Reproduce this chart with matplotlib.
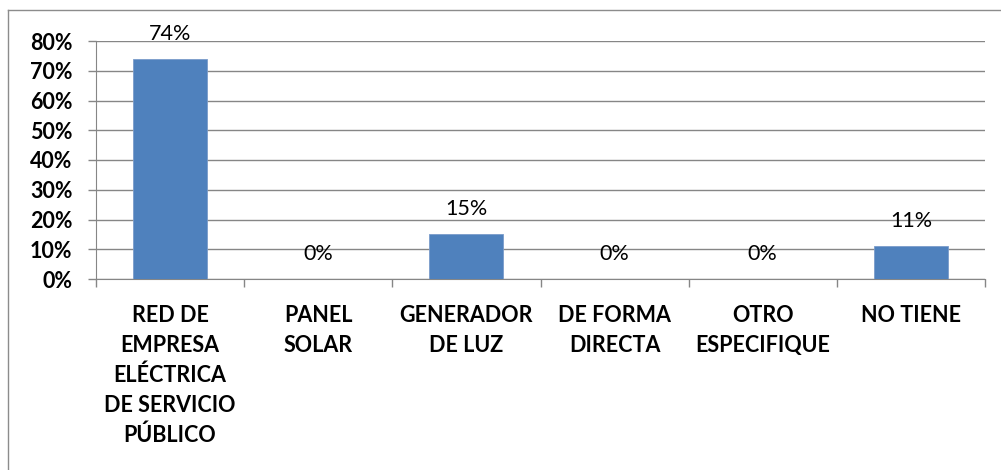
import numpy as np
import matplotlib
matplotlib.use("Agg")
import matplotlib.pyplot as plt
from matplotlib.lines import Line2D
from matplotlib.ticker import FixedLocator

# --- Data ---
categories = [
    "RED DE\nEMPRESA\nELÉCTRICA\nDE SERVICIO\nPÚBLICO",
    "PANEL\nSOLAR",
    "GENERADOR\nDE LUZ",
    "DE FORMA\nDIRECTA",
    "OTRO\nESPECIFIQUE",
    "NO TIENE",
]
values = [74, 0, 15, 0, 0, 11]
y_ticks = [0, 10, 20, 30, 40, 50, 60, 70, 80]

BAR_COLOR = "#4F81BD"
GRID_COLOR = "#868686"

plt.rcParams['font.family'] = ['Lato', 'DejaVu Sans']

fig = plt.figure(figsize=(10.01, 4.70), dpi=100)
ax = fig.add_axes([96 / 1001, 191 / 470, 889 / 1001, 238 / 470])

x = np.arange(len(categories))
bars = ax.bar(x, values, width=0.5, color=BAR_COLOR, edgecolor="#7A9CCB",
              linewidth=0.6, zorder=3)

# data labels
ax.bar_label(bars, labels=[f"{v}%" for v in values], padding=11,
             fontsize=15.5, color="black")

# axes limits and grid
ax.set_xlim(-0.5, len(categories) - 0.5)
ax.set_ylim(0, 80)
ax.set_yticks(y_ticks)
ax.set_yticklabels([f"{t}%" for t in y_ticks], fontsize=15.5, fontweight="bold")
ax.yaxis.grid(True, color=GRID_COLOR, linewidth=1.0, zorder=0)
ax.set_axisbelow(True)

# category labels at centres, tick marks at boundaries
ax.set_xticks(x)
ax.set_xticklabels(categories, fontsize=15.5, fontweight="bold",
                   linespacing=1.5, va="top")
ax.xaxis.set_minor_locator(FixedLocator(np.arange(-0.5, len(categories), 1.0)))
ax.tick_params(axis="x", which="major", length=0, pad=19)
ax.tick_params(axis="x", which="minor", length=6, color=GRID_COLOR, width=1.0)
ax.tick_params(axis="y", length=6, color=GRID_COLOR, width=1.0, pad=11)

for side in ["top", "right"]:
    ax.spines[side].set_visible(False)
ax.spines["left"].set_color(GRID_COLOR)
ax.spines["bottom"].set_color(GRID_COLOR)

# outer frame: top and left edges
fig.add_artist(Line2D([8 / 1001, 1.0], [1 - 10 / 470, 1 - 10 / 470],
                      transform=fig.transFigure, color="#8C8C8C", linewidth=1.0))
fig.add_artist(Line2D([8 / 1001, 8 / 1001], [0.0, 1 - 10 / 470],
                      transform=fig.transFigure, color="#8C8C8C", linewidth=1.0))

fig.savefig("out.png", dpi=100)
